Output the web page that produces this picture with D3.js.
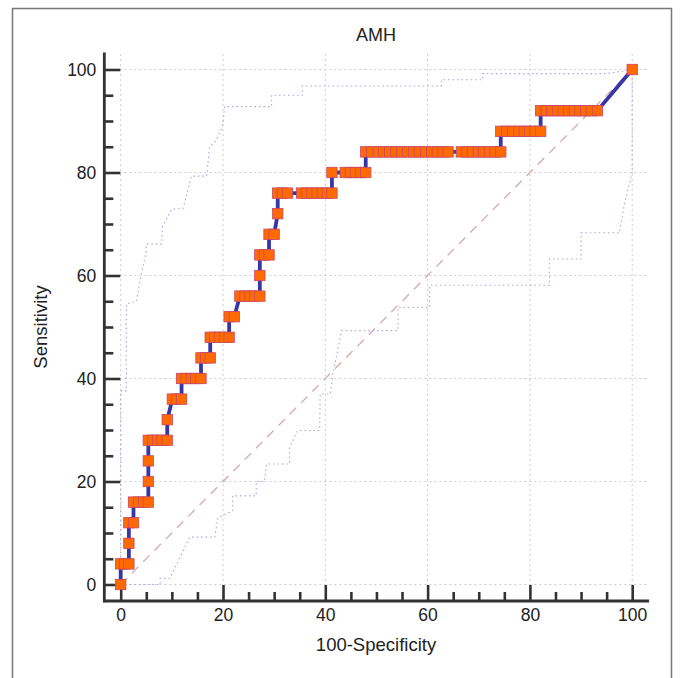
<!DOCTYPE html>
<html>
<head>
<meta charset="utf-8">
<script src="https://cdn.jsdelivr.net/npm/d3@7"></script>
<style>
  body { margin: 0; background: #fff; }
  text { font-family: 'Liberation Sans', Arial, sans-serif; fill: #222; }
</style>
</head>
<body>
<div class="container"></div>
<script>
// sensitivity levels (25 positives -> steps of 4) and the 100-specificity values at each level
const sensLevels = [0, 4, 8, 12, 16, 20, 24, 28, 32, 36, 40, 44, 48, 52, 56, 60, 64, 68, 72, 76, 80, 84, 88, 92, 100]
const fprByLevel = [
  [0],
  [0, 0.8, 1.6],
  [1.6],
  [1.6, 2.5],
  [2.5, 3.5, 4.5, 5.4],
  [5.4],
  [5.4],
  [5.4, 6.3, 7.2, 8.1, 9.1],
  [9.1],
  [10.1, 11.0, 11.9],
  [11.9, 12.8, 13.8, 14.7, 15.7],
  [15.7, 16.6, 17.5],
  [17.5, 18.4, 19.4, 20.3, 21.2],
  [21.2, 22.2],
  [23.3, 24.3, 25.3, 26.2, 27.2],
  [27.2],
  [27.2, 28.1, 29.0],
  [29.0, 30.0],
  [30.7],
  [30.7, 31.6, 32.6, 35.4, 36.4, 37.4, 38.4, 39.4, 40.4, 41.3],
  [41.3, 43.9, 44.9, 45.9, 46.9, 47.9],
  [47.9, 49.1, 50.3, 51.4, 52.6, 53.8, 54.9, 56.1, 57.3, 58.4, 59.6, 60.8, 61.9, 63.0, 64.0,
   66.6, 67.7, 68.8, 69.9, 71.0, 72.1, 73.2, 74.3],
  [74.3, 75.5, 76.6, 77.8, 78.9, 80.0, 81.0, 82.1],
  [82.1, 83.2, 84.3, 85.4, 86.5, 87.6, 88.7, 89.8, 90.9, 92.0, 93.2],
  [100]
]

// 95% confidence bounds, [100-specificity, sensitivity]
const upperBand = [[0, 0], [0, 37.6], [1.1, 37.6], [1.1, 54.5], [3.1, 55], [3.6, 58], [4.2, 61], [5, 64.7],
  [5, 66.1], [8, 66.1], [8.2, 69.6], [10, 72.9], [12.2, 73], [13.5, 78], [13.8, 79.3], [16.8, 79.3],
  [17.4, 85], [18.5, 86], [19.5, 88], [20, 89.4], [20.3, 92.8], [29.5, 92.8], [29.5, 95], [35.5, 95],
  [35.5, 96.8], [62.7, 96.8], [62.7, 98], [70.8, 98], [70.8, 99.2], [95, 99.2], [100, 100]]
const lowerBand = [[0, 0], [7.7, 0], [7.7, 1.2], [9.6, 1.2], [13.5, 9.2], [18.4, 9.2], [19, 13], [21.9, 14.3],
  [21.9, 17.2], [26.5, 17.2], [26.5, 20], [28.1, 20], [28.5, 23.4], [33, 23.4], [33, 26.6], [34.6, 29.9],
  [38.9, 29.9], [39, 37], [41, 37], [41.5, 41], [43.2, 49.3], [54.2, 49.3], [54.2, 53.8], [60.4, 53.8],
  [60.4, 58.1], [83.8, 58.1], [83.8, 63.2], [90, 63.2], [90, 68.3], [97.5, 68.3], [98.5, 74], [100, 80], [100, 100]]

const majorTicks = [0, 20, 40, 60, 80, 100]
const minorTicks = [5, 10, 15, 25, 30, 35, 45, 50, 55, 65, 70, 75, 85, 90, 95]

const w = 682
const h = 678
const axisLo = -3.2
const axisHi = 103.3

const points = []
sensLevels.forEach((s, i) => fprByLevel[i].forEach(f => points.push([f, s])))

const svg = d3.select('.container')
  .append('svg')
  .attr('width', w)
  .attr('height', h)

svg.append('rect')
  .attr('x', 12.5).attr('y', 8.5)
  .attr('width', 659).attr('height', 690)
  .attr('fill', '#fff')
  .attr('stroke', '#777')
  .attr('stroke-width', 1.5)

const xScale = d3.scaleLinear().domain([0, 100]).range([120.7, 632.2])
const yScale = d3.scaleLinear().domain([0, 100]).range([584.5, 69.5])

// grid
svg.append('g').selectAll('line')
  .data(majorTicks)
  .join('line')
  .attr('x1', xScale(axisLo)).attr('x2', xScale(axisHi))
  .attr('y1', d => yScale(d)).attr('y2', d => yScale(d))
  .attr('stroke', '#cdcdcd').attr('stroke-dasharray', '2,3')
svg.append('g').selectAll('line')
  .data(majorTicks)
  .join('line')
  .attr('y1', yScale(axisLo)).attr('y2', yScale(axisHi))
  .attr('x1', d => xScale(d)).attr('x2', d => xScale(d))
  .attr('stroke', '#cdcdcd').attr('stroke-dasharray', '2,3')

// diagonal
svg.append('line')
  .attr('x1', xScale(0)).attr('y1', yScale(0))
  .attr('x2', xScale(100)).attr('y2', yScale(100))
  .attr('stroke', '#d8a8ac').attr('stroke-width', 1.3)
  .attr('stroke-dasharray', '9,7')

const line = d3.line().x(d => xScale(d[0])).y(d => yScale(d[1]))

// confidence bounds
svg.selectAll('path.band')
  .data([upperBand, lowerBand])
  .join('path')
  .attr('class', 'band')
  .attr('d', line)
  .attr('fill', 'none')
  .attr('stroke', '#a4a4e6')
  .attr('stroke-width', 1.1)
  .attr('stroke-dasharray', '1.5,3')

// axes
const xMajor = d3.axisBottom(xScale).tickValues(majorTicks).tickSize(-16).tickPadding(8)
const xMinor = d3.axisBottom(xScale).tickValues(minorTicks).tickSize(-9).tickFormat('')
const yMajor = d3.axisLeft(yScale).tickValues(majorTicks).tickSize(-16).tickPadding(8)
const yMinor = d3.axisLeft(yScale).tickValues(minorTicks).tickSize(-9).tickFormat('')

const styleAxis = g => {
  g.select('.domain').remove()
  g.selectAll('line').attr('stroke', '#333').attr('stroke-width', 2.6)
  g.selectAll('text').attr('font-size', 17.5).attr('fill', '#222')
    .attr('font-family', "'Liberation Sans', Arial, sans-serif")
}

const bottomY = yScale(axisLo)
const leftX = xScale(axisLo)

svg.append('g').attr('transform', `translate(0, ${bottomY})`).call(xMinor).call(styleAxis)
svg.append('g').attr('transform', `translate(0, ${bottomY})`).call(xMajor).call(styleAxis)
svg.append('g').attr('transform', `translate(${leftX}, 0)`).call(yMinor).call(styleAxis)
svg.append('g').attr('transform', `translate(${leftX}, 0)`).call(yMajor).call(styleAxis)

svg.append('line')
  .attr('x1', leftX - 1.3).attr('x2', xScale(axisHi))
  .attr('y1', bottomY).attr('y2', bottomY)
  .attr('stroke', '#333').attr('stroke-width', 2.8)
svg.append('line')
  .attr('x1', leftX).attr('x2', leftX)
  .attr('y1', yScale(axisHi)).attr('y2', bottomY + 1.3)
  .attr('stroke', '#333').attr('stroke-width', 2.8)

// ROC curve
svg.append('path')
  .datum(points)
  .attr('d', line)
  .attr('fill', 'none')
  .attr('stroke', '#3636a6')
  .attr('stroke-width', 3.8)

svg.selectAll('rect.pt')
  .data(points)
  .join('rect')
  .attr('class', 'pt')
  .attr('x', d => xScale(d[0]) - 5.2)
  .attr('y', d => yScale(d[1]) - 5.2)
  .attr('width', 10.4)
  .attr('height', 10.4)
  .attr('fill', '#ff6a00')
  .attr('stroke', '#c8476a')
  .attr('stroke-width', 0.8)

// labels
svg.append('text')
  .text('AMH')
  .attr('x', 376).attr('y', 41)
  .attr('text-anchor', 'middle')
  .attr('font-size', 18)

svg.append('text')
  .text('100-Specificity')
  .attr('x', 376).attr('y', 651)
  .attr('text-anchor', 'middle')
  .attr('font-size', 18.5)

svg.append('text')
  .text('Sensitivity')
  .attr('transform', 'translate(47, 327) rotate(-90)')
  .attr('text-anchor', 'middle')
  .attr('font-size', 18.5)
</script>
</body>
</html>
